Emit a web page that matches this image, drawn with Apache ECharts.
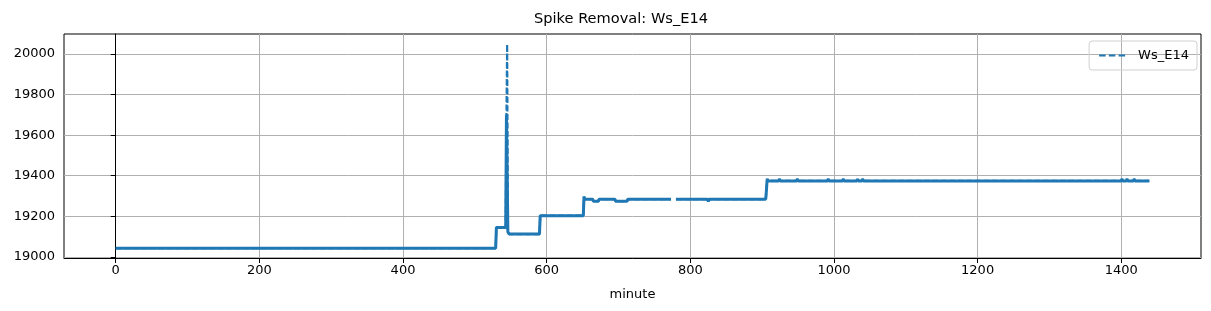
<!DOCTYPE html>
<html>
<head>
<meta charset="utf-8">
<script src="https://cdn.jsdelivr.net/npm/echarts@6/dist/echarts.min.js"></script>
<style>html,body{margin:0;padding:0;background:#fff}#c{width:1211px;height:311px}</style>
</head>
<body>
<div id="c"></div>
<script>
// Breakpoints of the step-like series (minute, value); null = missing data
const minutes = [0, 529, 530, 543, 544, 545, 546, 548, 590, 591, 651, 652, 653, 664, 665, 672, 673, 695, 696, 712, 713, 773, 774, 780, 824, 825, 826, 905, 906, 907, 908, 923, 924, 925, 948, 949, 950, 991, 992, 993, 1012, 1013, 1014, 1032, 1033, 1034, 1039, 1040, 1041, 1400, 1401, 1402, 1407, 1408, 1409, 1417, 1418, 1419, 1439];
const values  = [19042, 19042, 19145, 19145, 19700, 20048, 19123, 19112, 19112, 19203, 19203, 19297, 19284, 19284, 19274, 19274, 19284, 19284, 19274, 19274, 19284, 19284, null, 19284, 19284, 19272, 19284, 19284, 19330, 19384, 19374, 19374, 19384, 19374, 19374, 19384, 19374, 19374, 19384, 19374, 19374, 19384, 19374, 19374, 19384, 19374, 19374, 19384, 19374, 19374, 19384, 19374, 19374, 19384, 19374, 19374, 19384, 19374, 19374];
const xTicks = [0, 200, 400, 600, 800, 1000, 1200, 1400];
const yTicks = [19000, 19200, 19400, 19600, 19800, 20000];
const seriesName = 'Ws_E14';
const solidTop = 19700; // above this the spike shows its dashed style

const dataDashed = minutes.map((m, i) => [m, values[i] === null ? '-' : values[i]]);
const dataSolid = minutes.map((m, i) => [m, values[i] === null ? '-' : Math.min(values[i], solidTop)]);

const blue = '#1f77b4';
const chart = echarts.init(document.getElementById('c'), null, {renderer: 'canvas'});
const font = 'DejaVu Sans';
chart.setOption({
  animation: false,
  backgroundColor: '#fff',
  title: {
    text: 'Spike Removal: ' + seriesName,
    left: 529, top: 7,
    textStyle: {fontFamily: font, fontSize: 14.6, fontWeight: 'normal', color: '#000'}
  },
  legend: {
    data: [{name: seriesName, icon: 'path://M0,0h6v2h-6z M9,0h6v2h-6z M18,0h6v2h-6z'}],
    right: 14, top: 41,
    orient: 'vertical',
    itemWidth: 26, itemHeight: 2.6, itemGap: 6,
    padding: [8, 8, 8, 10],
    borderColor: '#d0d0d0', borderWidth: 1, borderRadius: 3,
    itemStyle: {color: blue},
    textStyle: {fontFamily: font, fontSize: 13, color: '#000', padding: [0, 0, 0, 8]}
  },
  grid: {left: 64, right: 10, top: 34, bottom: 53, show: true, borderColor: '#000', borderWidth: 1, backgroundColor: 'transparent'},
  xAxis: {
    type: 'value', min: -72, max: 1511,
    name: 'minute', nameLocation: 'middle', nameGap: 30,
    nameTextStyle: {fontFamily: font, fontSize: 13, color: '#000'},
    axisLine: {show: true, lineStyle: {color: '#000', width: 1}},
    axisTick: {show: true, length: 5, customValues: xTicks, lineStyle: {color: '#000'}},
    axisLabel: {customValues: xTicks, margin: 6, fontFamily: font, fontSize: 13, color: '#000', formatter: v => String(v)},
    splitLine: {show: true, lineStyle: {color: '#b0b0b0', width: 1}}
  },
  yAxis: {
    type: 'value', min: 18994, max: 20099,
    axisLine: {show: true, lineStyle: {color: '#000', width: 1}},
    axisTick: {show: true, length: 5, customValues: yTicks, lineStyle: {color: '#000'}},
    axisLabel: {customValues: yTicks, margin: 9, fontFamily: font, fontSize: 13, color: '#000', formatter: v => String(v)},
    splitLine: {show: true, lineStyle: {color: '#b0b0b0', width: 1}}
  },
  series: [
    {
      name: seriesName, type: 'line', data: dataDashed,
      symbol: 'none', connectNulls: false,
      lineStyle: {color: blue, width: 2.2, type: [6, 2.5]},
      itemStyle: {color: blue}
    },
    {
      name: '_solid', type: 'line', data: dataSolid,
      symbol: 'none', connectNulls: false,
      lineStyle: {color: blue, width: 3, type: 'solid'},
      itemStyle: {color: blue}
    }
  ]
});
</script>
</body>
</html>
